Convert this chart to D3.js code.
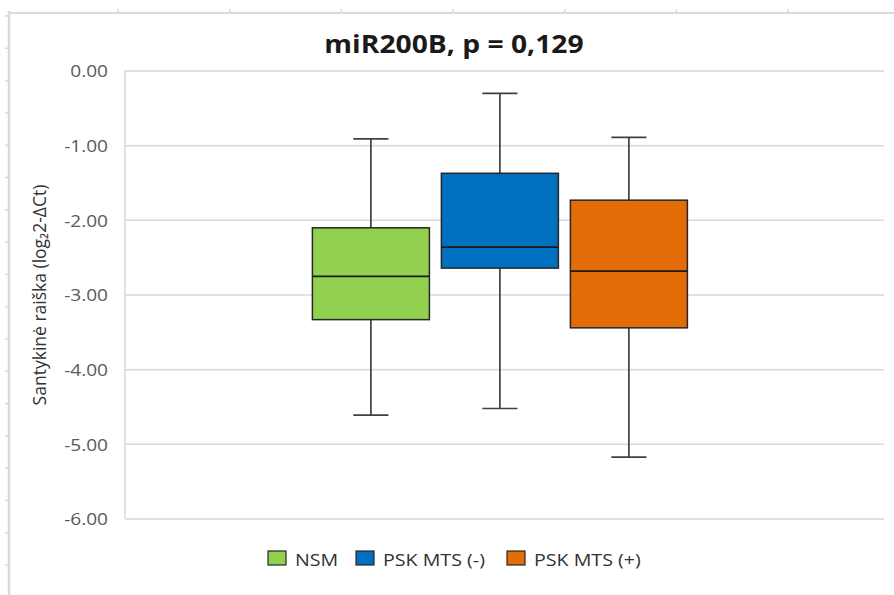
<!DOCTYPE html>
<html>
<head>
<meta charset="utf-8">
<script src="https://cdn.jsdelivr.net/npm/d3@7"></script>
<style>
  body { margin: 0; background: #fff; }
  text { font-family: "Open Sans", sans-serif; }
</style>
</head>
<body>
<svg id="chart" width="894" height="595"></svg>
<script>
const series = ["NSM", "PSK MTS (-)", "PSK MTS (+)"];
const colors = ["#92D050", "#0070C0", "#E36C09"];
const whiskerMax = [-0.91, -0.30, -0.89];
const q3 = [-2.10, -1.37, -1.73];
const median = [-2.75, -2.36, -2.68];
const q1 = [-3.33, -2.64, -3.44];
const whiskerMin = [-4.61, -4.52, -5.17];
const yTicks = [0, -1, -2, -3, -4, -5, -6];
const title = "miR200B, p = 0,129";
const yTitle = "Santykinė raiška (log₂2-ΔCt)";

const width = 894, height = 595;
const plotLeft = 125, plotRight = 884, plotTop = 71, plotBottom = 519;
const stretch = 1.19; // the picture is a bit wider than tall

const svg = d3.select("#chart");

// widen text horizontally like the reference screenshot
function widen(sel, k) {
  sel.each(function () {
    const len = this.getComputedTextLength();
    d3.select(this).attr("textLength", len * k).attr("lengthAdjust", "spacingAndGlyphs");
  });
}

// spreadsheet border behind the chart
const frame = svg.append("g").attr("stroke", "#dadada");
frame.append("line").attr("x1", 9).attr("x2", 9).attr("y1", 11).attr("y2", height).attr("stroke-width", 2.5);
frame.append("line").attr("x1", 9).attr("x2", width).attr("y1", 13).attr("y2", 13).attr("stroke-width", 2);
frame.selectAll(".vt").data(d3.range(7)).join("line")
  .attr("x1", d => 118 + d * 111.7).attr("x2", d => 118 + d * 111.7)
  .attr("y1", 9).attr("y2", 13).attr("stroke-width", 1.5);
frame.selectAll(".ht").data(d3.range(18)).join("line")
  .attr("x1", 5).attr("x2", 9)
  .attr("y1", d => 16 + d * 32.3).attr("y2", d => 16 + d * 32.3).attr("stroke-width", 1.5);

const y = d3.scaleLinear().domain([-6, 0]).range([plotBottom, plotTop]);

const x = d3.scaleBand().domain(["miR200B"]).range([plotLeft, plotRight])
  .paddingOuter(0.512).align(0.488);
const xs = d3.scaleBand().domain(series).range([0, x.bandwidth()])
  .paddingInner(0.093).paddingOuter(0);

// gridlines
svg.append("g").selectAll("line").data(yTicks).join("line")
  .attr("x1", plotLeft).attr("x2", plotRight)
  .attr("y1", d => y(d)).attr("y2", d => y(d))
  .attr("stroke", "#d9d9d9").attr("stroke-width", 1.5);
svg.append("line").attr("x1", plotLeft).attr("x2", plotLeft).attr("y1", plotTop).attr("y2", plotBottom)
  .attr("stroke", "#d9d9d9").attr("stroke-width", 1.5);

// y labels
const yAxis = svg.append("g")
  .attr("transform", `translate(${plotLeft - 17},0)`)
  .call(d3.axisLeft(y).tickValues(yTicks).tickFormat(d3.format(".2f")).tickSize(0).tickPadding(0));
yAxis.select(".domain").remove();
yAxis.selectAll("text")
  .attr("font-family", "Open Sans").attr("font-size", 16).attr("fill", "#595959")
  .attr("dy", "0.36em")
  .text(d => d3.format(".2f")(d).replace("−", "-"))
  .call(widen, stretch);

// boxes
const boxes = svg.append("g").selectAll("g").data(series).join("g")
  .attr("transform", d => `translate(${x("miR200B") + xs(d)},0)`);
const bw = xs.bandwidth();
const cap = bw * 0.3;

boxes.append("line")
  .attr("x1", bw / 2).attr("x2", bw / 2)
  .attr("y1", (d, i) => y(whiskerMax[i])).attr("y2", (d, i) => y(whiskerMin[i]))
  .attr("stroke", "#404040").attr("stroke-width", 1.7);
boxes.append("line")
  .attr("x1", bw / 2 - cap / 2).attr("x2", bw / 2 + cap / 2)
  .attr("y1", (d, i) => y(whiskerMax[i])).attr("y2", (d, i) => y(whiskerMax[i]))
  .attr("stroke", "#404040").attr("stroke-width", 1.7);
boxes.append("line")
  .attr("x1", bw / 2 - cap / 2).attr("x2", bw / 2 + cap / 2)
  .attr("y1", (d, i) => y(whiskerMin[i])).attr("y2", (d, i) => y(whiskerMin[i]))
  .attr("stroke", "#404040").attr("stroke-width", 1.7);
boxes.append("rect")
  .attr("x", 0).attr("width", bw)
  .attr("y", (d, i) => y(q3[i])).attr("height", (d, i) => y(q1[i]) - y(q3[i]))
  .attr("fill", (d, i) => colors[i])
  .attr("stroke", "#262626").attr("stroke-width", 1.5);
boxes.append("line")
  .attr("x1", 0).attr("x2", bw)
  .attr("y1", (d, i) => y(median[i])).attr("y2", (d, i) => y(median[i]))
  .attr("stroke", "#1a1a1a").attr("stroke-width", 1.7);

// title
svg.append("text")
  .attr("x", 454).attr("y", 53)
  .attr("text-anchor", "middle")
  .attr("font-size", 25).attr("font-weight", "bold").attr("fill", "#1a1a1a")
  .text(title)
  .call(widen, 1.13);

// y title
svg.append("text")
  .attr("transform", `translate(46,${(plotTop + plotBottom) / 2}) rotate(-90)`)
  .attr("text-anchor", "middle")
  .attr("font-size", 17.5).attr("fill", "#333333")
  .text(yTitle);

// legend
const legendX = [268, 356, 507];
const legend = svg.append("g").selectAll("g").data(series).join("g")
  .attr("transform", (d, i) => `translate(${legendX[i]},551)`);
legend.append("rect")
  .attr("width", 18).attr("height", 14)
  .attr("fill", (d, i) => colors[i])
  .attr("stroke", "#262626").attr("stroke-width", 1.2);
legend.append("text")
  .attr("x", 27).attr("y", 14.5)
  .attr("font-size", 16.5).attr("fill", "#333333")
  .text(d => d)
  .call(widen, stretch);
</script>
</body>
</html>
